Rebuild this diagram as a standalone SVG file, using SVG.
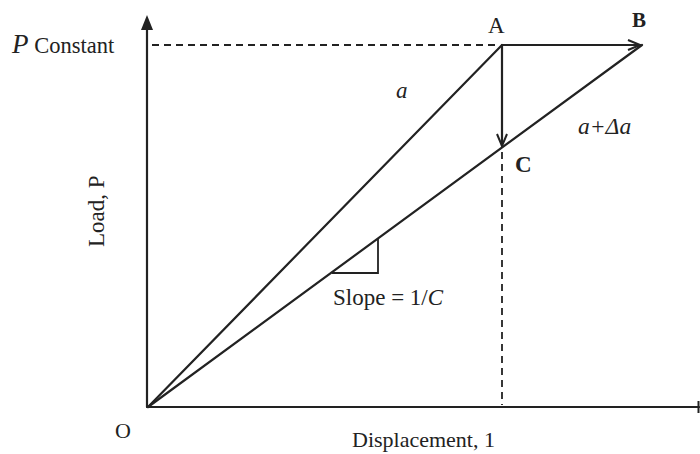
<svg xmlns="http://www.w3.org/2000/svg" width="700" height="454" viewBox="0 0 700 454">
<style>
.ln{stroke:#222;stroke-width:2.2;fill:none;stroke-linecap:round}
.ds{stroke:#222;stroke-width:1.8;fill:none;stroke-dasharray:7,5}
.t{font-family:"Liberation Serif",serif;fill:#222}
.b{font-weight:bold}
.i{font-style:italic}
</style>
<defs>
<marker id="ah" viewBox="0 0 14 12" refX="13" refY="6" markerWidth="14" markerHeight="12" markerUnits="userSpaceOnUse" orient="auto">
<path d="M1,1 L13,6 L1,11" fill="none" stroke="#222" stroke-width="2"/>
</marker>
</defs>
<rect width="700" height="454" fill="#fff"/>
<g id="axes">
<line class="ln" x1="147" y1="407" x2="147" y2="28"/>
<path d="M141,30 L147,15 L153,30 Z" fill="#222"/>
<line class="ln" x1="147" y1="407" x2="699" y2="407"/>
<line x1="698.5" y1="401" x2="698.5" y2="413" stroke="#222" stroke-width="2"/>
</g>
<g id="connectors">
<line class="ds" x1="152" y1="45" x2="500" y2="45"/>
<line class="ds" x1="502" y1="152" x2="502" y2="405"/>
<line class="ln" x1="148" y1="407" x2="502" y2="45"/>
<line class="ln" x1="148" y1="407" x2="642" y2="45"/>
<line class="ln" x1="502" y1="45" x2="640" y2="45" marker-end="url(#ah)"/>
<line class="ln" x1="502" y1="45" x2="502" y2="146" marker-end="url(#ah)"/>
<polyline points="332,273 378,273 378,239" fill="none" stroke="#222" stroke-width="1.8"/>
</g>
<g id="labels">
<text class="t" x="12" y="53" font-size="27"><tspan class="i">P</tspan><tspan font-size="22.5"> Constant</tspan></text>
<text class="t" x="488" y="33" font-size="23">A</text>
<text class="t b" x="632" y="27" font-size="21">B</text>
<text class="t b" x="515" y="172" font-size="23">C</text>
<text class="t i" x="396" y="98" font-size="23">a</text>
<text class="t i" x="578" y="134" font-size="23.5">a+Δa</text>
<text class="t" x="333" y="305" font-size="23">Slope = 1/<tspan class="i">C</tspan></text>
<text class="t" x="115" y="438" font-size="22">O</text>
<text class="t" x="352" y="447" font-size="22">Displacement, 1</text>
<text class="t" x="0" y="0" font-size="23" transform="translate(104,247) rotate(-90)">Load, P</text>
</g>
</svg>
